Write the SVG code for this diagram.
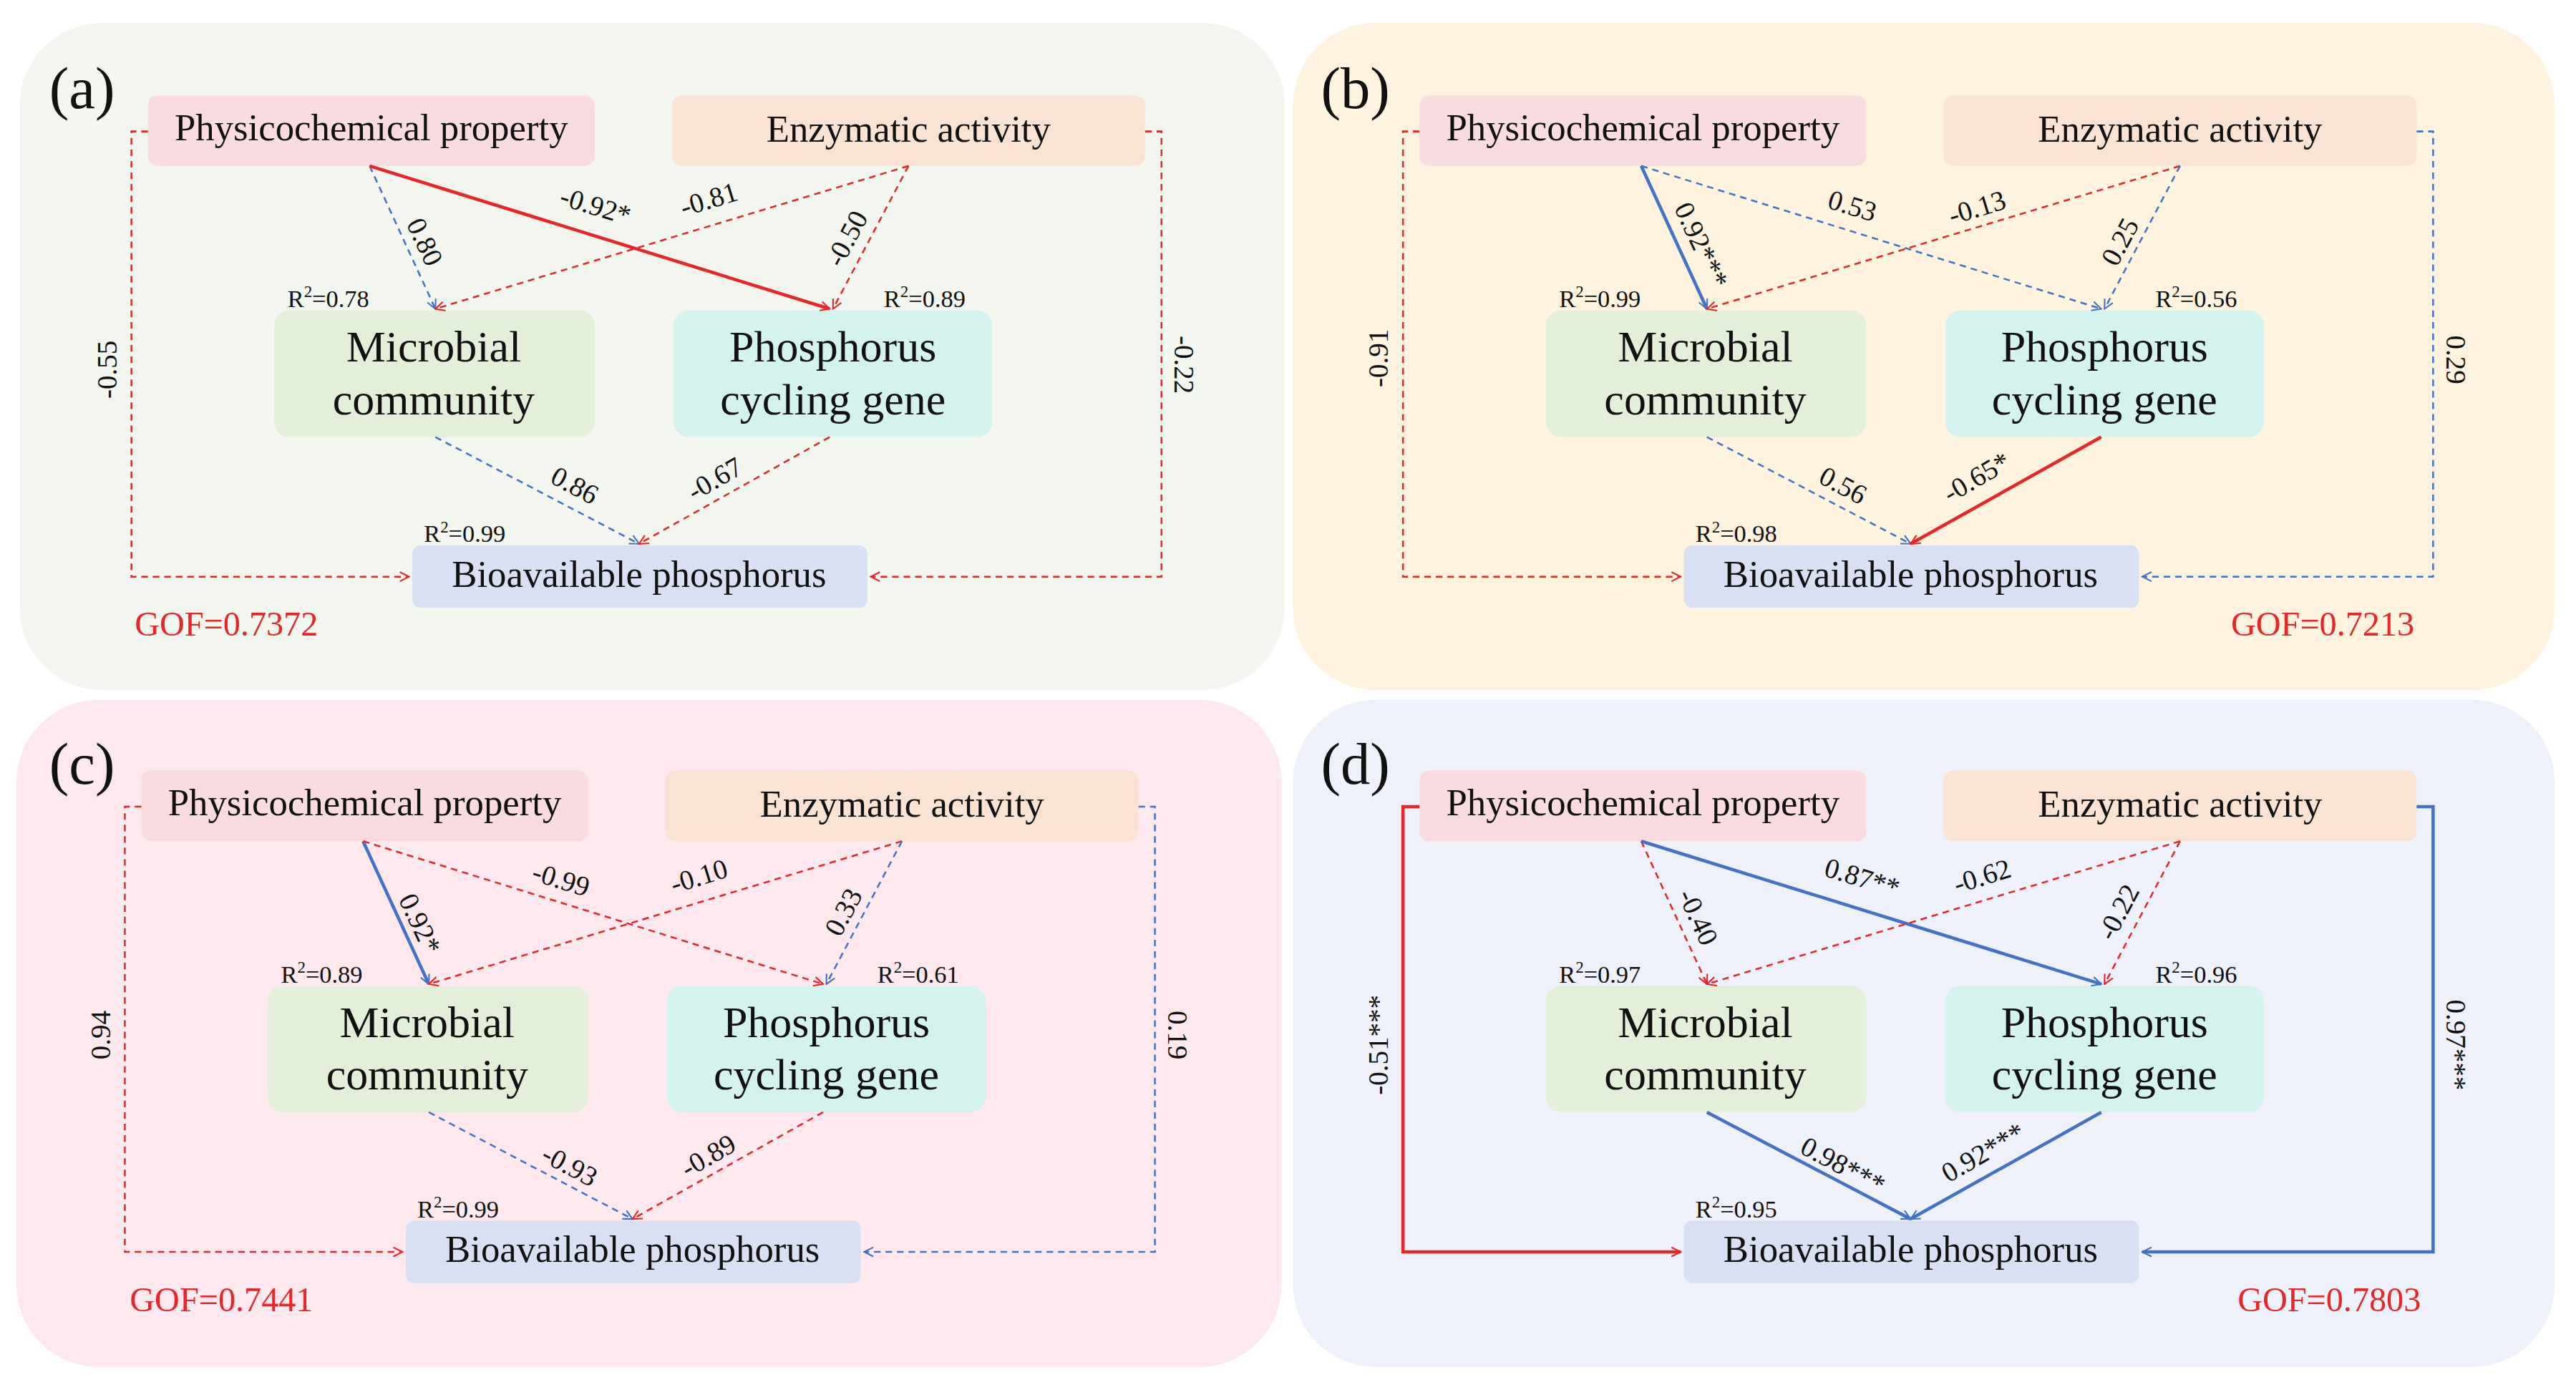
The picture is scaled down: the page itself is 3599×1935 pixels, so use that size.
<svg xmlns="http://www.w3.org/2000/svg" width="3599" height="1935" viewBox="0 0 3599 1935" font-family="'Liberation Serif', 'Times New Roman', 'DejaVu Serif', serif">
<defs>
<marker id="ar" viewBox="0 0 10 10" refX="9" refY="5" markerWidth="7" markerHeight="7" orient="auto" markerUnits="userSpaceOnUse"><path d="M1,1 L9,5 L1,9" fill="none" stroke="#e8262a" stroke-width="1.3"/></marker>
<marker id="ab" viewBox="0 0 10 10" refX="9" refY="5" markerWidth="7" markerHeight="7" orient="auto" markerUnits="userSpaceOnUse"><path d="M1,1 L9,5 L1,9" fill="none" stroke="#4472c4" stroke-width="1.3"/></marker>
</defs>
<style>
text{fill:#111}
.n{font-size:23px;text-anchor:middle;dominant-baseline:middle}
.nb{font-size:27px;text-anchor:middle;dominant-baseline:middle}
.l{font-size:17px;text-anchor:middle;dominant-baseline:middle}
.r{font-size:15px}
.g{font-size:21px;fill:#e8262a}
.p{font-size:36px}
.rd{fill:none;stroke:#e8262a;stroke-width:1.1;stroke-dasharray:4 3;marker-end:url(#ar)}
.bd{fill:none;stroke:#4472c4;stroke-width:1.1;stroke-dasharray:4 3;marker-end:url(#ab)}
.rs{fill:none;stroke:#e8262a;stroke-width:2;marker-end:url(#ar)}
.bs{fill:none;stroke:#4472c4;stroke-width:2;marker-end:url(#ab)}
.pc{fill:#f9dbe0}.ea{fill:#fbe3d4}.mc{fill:#e3efd9}.pg{fill:#d4f3ef}.bp{fill:#d9e0f3}
</style>
<g transform="scale(2.2953)">
<rect x="12" y="14" width="770" height="406" rx="50" fill="#f2f6ee"/>
<rect x="787" y="14" width="768" height="406" rx="50" fill="#fdf3de"/>
<rect x="10" y="426" width="770" height="406" rx="50" fill="#fde8ee"/>
<rect x="787" y="426" width="768" height="406" rx="50" fill="#eef0fa"/>

<g id="panel-a">
<text class="p" x="30" y="66">(a)</text>
<g id="a-phys"><rect class="pc" x="90" y="58" width="272" height="43" rx="6"/><text class="n" x="226" y="80">Physicochemical property</text></g>
<g id="a-enz"><rect class="ea" x="409" y="58" width="288" height="43" rx="6"/><text class="n" x="553" y="81">Enzymatic activity</text></g>
<g id="a-mic"><rect class="mc" x="167" y="189" width="195" height="77" rx="9"/><text class="nb" x="264" y="214">Microbial</text><text class="nb" x="264" y="246">community</text></g>
<g id="a-pcg"><rect class="pg" x="410" y="189" width="194" height="77" rx="9"/><text class="nb" x="507" y="214">Phosphorus</text><text class="nb" x="507" y="246">cycling gene</text></g>
<g id="a-bio"><rect class="bp" x="251" y="332" width="277" height="38" rx="5"/><text class="n" x="389" y="352">Bioavailable phosphorus</text></g>
<g id="a-connectors">
<path class="bd" d="M225,101 L265,188"/>
<path class="rs" d="M225,101 L505,188"/>
<path class="rd" d="M553,101 L265,188"/>
<path class="rd" d="M553,101 L507,188"/>
<path class="bd" d="M265,266 L389,331"/>
<path class="rd" d="M505,266 L389,331"/>
<path class="rd" d="M90,80 H80 V351 H249"/>
<path class="rd" d="M697,80 H707 V351 H530"/>
</g>
<text class="l" transform="translate(257,148) rotate(65)">0.80</text>
<text class="l" transform="translate(362,127) rotate(17)">-0.92*</text>
<text class="l" transform="translate(432,123) rotate(-17)">-0.81</text>
<text class="l" transform="translate(517,146) rotate(-62)">-0.50</text>
<text class="l" transform="translate(349,297) rotate(28)">0.86</text>
<text class="l" transform="translate(436,293) rotate(-30)">-0.67</text>
<text class="l" transform="translate(67,225) rotate(-90)">-0.55</text>
<text class="l" transform="translate(719,222) rotate(90)">-0.22</text>
<text class="r" x="175" y="187">R<tspan font-size="10" dy="-6">2</tspan><tspan dy="6">=0.78</tspan></text>
<text class="r" x="538" y="187">R<tspan font-size="10" dy="-6">2</tspan><tspan dy="6">=0.89</tspan></text>
<text class="r" x="258" y="330">R<tspan font-size="10" dy="-6">2</tspan><tspan dy="6">=0.99</tspan></text>
<text class="g" x="82" y="387">GOF=0.7372</text>
</g>

<g id="panel-b" transform="translate(774,0)">
<text class="p" x="30" y="66">(b)</text>
<g id="b-phys"><rect class="pc" x="90" y="58" width="272" height="43" rx="6"/><text class="n" x="226" y="80">Physicochemical property</text></g>
<g id="b-enz"><rect class="ea" x="409" y="58" width="288" height="43" rx="6"/><text class="n" x="553" y="81">Enzymatic activity</text></g>
<g id="b-mic"><rect class="mc" x="167" y="189" width="195" height="77" rx="9"/><text class="nb" x="264" y="214">Microbial</text><text class="nb" x="264" y="246">community</text></g>
<g id="b-pcg"><rect class="pg" x="410" y="189" width="194" height="77" rx="9"/><text class="nb" x="507" y="214">Phosphorus</text><text class="nb" x="507" y="246">cycling gene</text></g>
<g id="b-bio"><rect class="bp" x="251" y="332" width="277" height="38" rx="5"/><text class="n" x="389" y="352">Bioavailable phosphorus</text></g>
<g id="b-connectors">
<path class="bs" d="M225,101 L265,188"/>
<path class="bd" d="M225,101 L505,188"/>
<path class="rd" d="M553,101 L265,188"/>
<path class="bd" d="M553,101 L507,188"/>
<path class="bd" d="M265,266 L389,331"/>
<path class="rs" d="M505,266 L389,331"/>
<path class="rd" d="M90,80 H80 V351 H249"/>
<path class="bd" d="M697,80 H707 V351 H530"/>
</g>
<text class="l" transform="translate(260,150) rotate(65)">0.92***</text>
<text class="l" transform="translate(353,127) rotate(17)">0.53</text>
<text class="l" transform="translate(430,128) rotate(-17)">-0.13</text>
<text class="l" transform="translate(518,148) rotate(-62)">0.25</text>
<text class="l" transform="translate(347,297) rotate(28)">0.56</text>
<text class="l" transform="translate(430,292) rotate(-30)">-0.65*</text>
<text class="l" transform="translate(67,218) rotate(-90)">-0.91</text>
<text class="l" transform="translate(719,219) rotate(90)">0.29</text>
<text class="r" x="175" y="187">R<tspan font-size="10" dy="-6">2</tspan><tspan dy="6">=0.99</tspan></text>
<text class="r" x="538" y="187">R<tspan font-size="10" dy="-6">2</tspan><tspan dy="6">=0.56</tspan></text>
<text class="r" x="258" y="330">R<tspan font-size="10" dy="-6">2</tspan><tspan dy="6">=0.98</tspan></text>
<text class="g" x="584" y="387">GOF=0.7213</text>
</g>

<g id="panel-c" transform="translate(-4,411)">
<text class="p" x="34" y="66">(c)</text>
<g id="c-phys"><rect class="pc" x="90" y="58" width="272" height="43" rx="6"/><text class="n" x="226" y="80">Physicochemical property</text></g>
<g id="c-enz"><rect class="ea" x="409" y="58" width="288" height="43" rx="6"/><text class="n" x="553" y="81">Enzymatic activity</text></g>
<g id="c-mic"><rect class="mc" x="167" y="189" width="195" height="77" rx="9"/><text class="nb" x="264" y="214">Microbial</text><text class="nb" x="264" y="246">community</text></g>
<g id="c-pcg"><rect class="pg" x="410" y="189" width="194" height="77" rx="9"/><text class="nb" x="507" y="214">Phosphorus</text><text class="nb" x="507" y="246">cycling gene</text></g>
<g id="c-bio"><rect class="bp" x="251" y="332" width="277" height="38" rx="5"/><text class="n" x="389" y="352">Bioavailable phosphorus</text></g>
<g id="c-connectors">
<path class="bs" d="M225,101 L265,188"/>
<path class="rd" d="M225,101 L505,188"/>
<path class="rd" d="M553,101 L265,188"/>
<path class="bd" d="M553,101 L507,188"/>
<path class="bd" d="M265,266 L389,331"/>
<path class="rd" d="M505,266 L389,331"/>
<path class="rd" d="M90,80 H80 V351 H249"/>
<path class="bd" d="M697,80 H707 V351 H530"/>
</g>
<text class="l" transform="translate(258,152) rotate(65)">0.92*</text>
<text class="l" transform="translate(345,126) rotate(17)">-0.99</text>
<text class="l" transform="translate(430,124) rotate(-17)">-0.10</text>
<text class="l" transform="translate(519,145) rotate(-62)">0.33</text>
<text class="l" transform="translate(350,300) rotate(28)">-0.93</text>
<text class="l" transform="translate(436,294) rotate(-30)">-0.89</text>
<text class="l" transform="translate(67,219) rotate(-90)">0.94</text>
<text class="l" transform="translate(719,219) rotate(90)">0.19</text>
<text class="r" x="175" y="187">R<tspan font-size="10" dy="-6">2</tspan><tspan dy="6">=0.89</tspan></text>
<text class="r" x="538" y="187">R<tspan font-size="10" dy="-6">2</tspan><tspan dy="6">=0.61</tspan></text>
<text class="r" x="258" y="330">R<tspan font-size="10" dy="-6">2</tspan><tspan dy="6">=0.99</tspan></text>
<text class="g" x="83" y="387">GOF=0.7441</text>
</g>

<g id="panel-d" transform="translate(774,411)">
<text class="p" x="30" y="66">(d)</text>
<g id="d-phys"><rect class="pc" x="90" y="58" width="272" height="43" rx="6"/><text class="n" x="226" y="80">Physicochemical property</text></g>
<g id="d-enz"><rect class="ea" x="409" y="58" width="288" height="43" rx="6"/><text class="n" x="553" y="81">Enzymatic activity</text></g>
<g id="d-mic"><rect class="mc" x="167" y="189" width="195" height="77" rx="9"/><text class="nb" x="264" y="214">Microbial</text><text class="nb" x="264" y="246">community</text></g>
<g id="d-pcg"><rect class="pg" x="410" y="189" width="194" height="77" rx="9"/><text class="nb" x="507" y="214">Phosphorus</text><text class="nb" x="507" y="246">cycling gene</text></g>
<g id="d-bio"><rect class="bp" x="251" y="332" width="277" height="38" rx="5"/><text class="n" x="389" y="352">Bioavailable phosphorus</text></g>
<g id="d-connectors">
<path class="rd" d="M225,101 L265,188"/>
<path class="bs" d="M225,101 L505,188"/>
<path class="rd" d="M553,101 L265,188"/>
<path class="rd" d="M553,101 L507,188"/>
<path class="bs" d="M265,266 L389,331"/>
<path class="bs" d="M505,266 L389,331"/>
<path class="rs" d="M90,80 H80 V351 H249"/>
<path class="bs" d="M697,80 H707 V351 H530"/>
</g>
<text class="l" transform="translate(258,148) rotate(65)">-0.40</text>
<text class="l" transform="translate(359,125) rotate(17)">0.87**</text>
<text class="l" transform="translate(433,124) rotate(-17)">-0.62</text>
<text class="l" transform="translate(517,145) rotate(-62)">-0.22</text>
<text class="l" transform="translate(347,300) rotate(28)">0.98***</text>
<text class="l" transform="translate(434,292) rotate(-30)">0.92***</text>
<text class="l" transform="translate(67,225) rotate(-90)">-0.51***</text>
<text class="l" transform="translate(719,225) rotate(90)">0.97***</text>
<text class="r" x="175" y="187">R<tspan font-size="10" dy="-6">2</tspan><tspan dy="6">=0.97</tspan></text>
<text class="r" x="538" y="187">R<tspan font-size="10" dy="-6">2</tspan><tspan dy="6">=0.96</tspan></text>
<text class="r" x="258" y="330">R<tspan font-size="10" dy="-6">2</tspan><tspan dy="6">=0.95</tspan></text>
<text class="g" x="588" y="387">GOF=0.7803</text>
</g>
</g>
</svg>
